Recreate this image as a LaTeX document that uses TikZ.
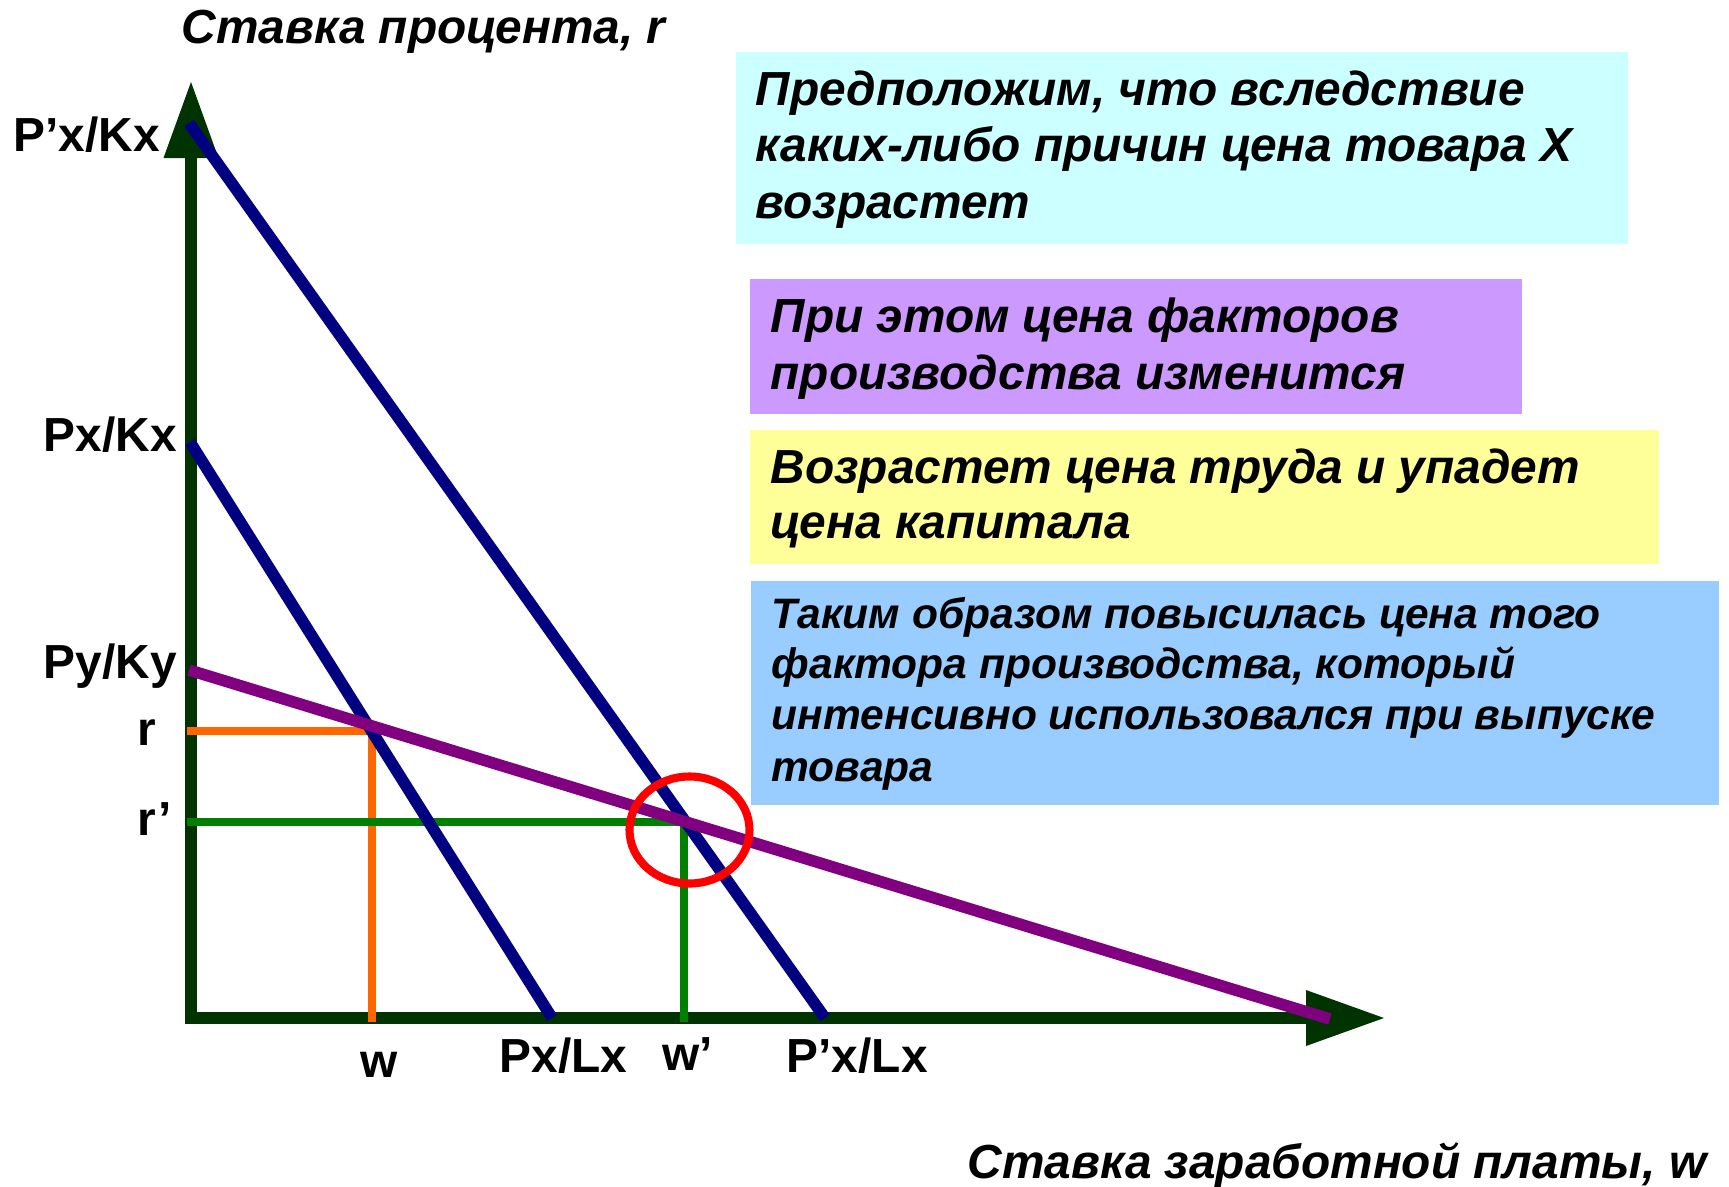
\documentclass[tikz,border=0pt]{standalone}
\usepackage{fontspec}
\setmainfont{Liberation Sans}
\definecolor{axisgreen}{HTML}{003300}
\definecolor{navyline}{HTML}{000080}
\definecolor{purpleline}{HTML}{800080}
\definecolor{orangeline}{HTML}{FF6600}
\definecolor{greenline}{HTML}{008000}
\definecolor{boxcyan}{HTML}{CCFFFF}
\definecolor{boxviolet}{HTML}{CC99FF}
\definecolor{boxyellow}{HTML}{FFFF99}
\definecolor{boxblue}{HTML}{99CCFF}
\begin{document}
\begin{tikzpicture}[x=0.01cm,y=-0.01cm,
  axisline/.style={draw=axisgreen, line width=3.6pt, line join=miter},
  axishead/.style={fill=axisgreen},
  budget/.style={draw=navyline, line width=3.3pt},
  costy/.style={draw=purpleline, line width=3.3pt},
  guideone/.style={draw=orangeline, line width=2pt},
  guidetwo/.style={draw=greenline, line width=2pt},
  ticklab/.style={font=\fontsize{13.6}{16}\selectfont\bfseries, anchor=base west, inner sep=0pt},
  titlelab/.style={font=\fontsize{13.6}{16}\selectfont\bfseries\itshape, anchor=base west, inner sep=0pt},
  boxtxt/.style={font=\fontsize{13.6}{16}\selectfont\bfseries\itshape, anchor=base west, inner sep=0pt},
  boxtxtsmall/.style={font=\fontsize{12.1}{15}\selectfont\bfseries\itshape, anchor=base west, inner sep=0pt},
  panel/.style={anchor=north west, inner sep=0pt, draw=none}
]
\useasboundingbox (0,0) rectangle (1729,1187);

% panels
\node[panel, fill=boxcyan, minimum width=8.92cm, minimum height=1.92cm] (b1) at (735,51) {};
\node[panel, fill=boxviolet, minimum width=7.72cm, minimum height=1.35cm] (b2) at (749,278) {};
\node[panel, fill=boxyellow, minimum width=9.09cm, minimum height=1.34cm] (b3) at (749,429) {};
\node[panel, fill=boxblue, minimum width=9.68cm, minimum height=2.24cm] (b4) at (750,580) {};

\node[boxtxt] (t1a) at (755,105) {Предположим, что вследствие};
\node[boxtxt] (t1b) at (755,161) {каких-либо причин цена товара X};
\node[boxtxt] (t1c) at (755,218) {возрастет};
\node[boxtxt] (t2a) at (770,332) {При этом цена факторов};
\node[boxtxt] (t2b) at (770,389) {производства изменится};
\node[boxtxt] (t3a) at (770,483) {Возрастет цена труда и упадет};
\node[boxtxt] (t3b) at (770,538) {цена капитала};
\node[boxtxtsmall] (t4a) at (771,628) {Таким образом повысилась цена того};
\node[boxtxtsmall] (t4b) at (771,678) {фактора производства, который};
\node[boxtxtsmall] (t4c) at (771,729) {интенсивно использовался при выпуске};
\node[boxtxtsmall] (t4d) at (771,781) {товара};

% axes
\coordinate (O) at (191,1018);
\coordinate (Ytop) at (191,157);
\coordinate (Xend) at (1307,1018);
\draw[axisline] (Ytop) -- (O) -- (Xend);
\fill[axishead] (191,82) -- (218.5,158) -- (163.5,158) -- cycle;
\fill[axishead] (1384,1018) -- (1306,990) -- (1306,1046) -- cycle;

% coordinates of curves
\coordinate (pk2) at (189,123);
\coordinate (pl2) at (825,1018);
\coordinate (pk1) at (190,442);
\coordinate (pl1) at (552,1018);
\coordinate (py) at (189,670);
\coordinate (pyend) at (1330,1019);
\coordinate (rA) at (187,731);
\coordinate (rB) at (372,731);
\coordinate (rC) at (372,1022);
\coordinate (sA) at (187,822);
\coordinate (sB) at (684,822);
\coordinate (sC) at (684,1022);

\draw[guideone] (rA) -- (rB) -- (rC);
\draw[guidetwo] (sA) -- (sB) -- (sC);
\draw[budget] (pk2) -- (pl2);
\draw[budget] (pk1) -- (pl1);
\draw[costy] (py) -- (pyend);
\draw[draw=red, line width=2.3pt] (689.5,830) ellipse [x radius=60, y radius=53.5];

% labels
\node[titlelab] (ytitle) at (181,43) {Ставка процента, r};
\node[titlelab] (xtitle) at (967,1178) {Ставка заработной платы, w};
\node[ticklab] (lpk2) at (13,151) {P’x/Kx};
\node[ticklab] (lpk1) at (43,451) {Px/Kx};
\node[ticklab] (lpy) at (43,678) {Py/Ky};
\node[ticklab] (lr) at (137,745) {r};
\node[ticklab] (lr2) at (137,835) {r’};
\node[ticklab] (lw) at (360,1077) {w};
\node[ticklab] (lpl1) at (499,1072) {Px/Lx};
\node[ticklab] (lw2) at (662,1070) {w’};
\node[ticklab] (lpl2) at (786,1072) {P’x/Lx};
\end{tikzpicture}
\end{document}
